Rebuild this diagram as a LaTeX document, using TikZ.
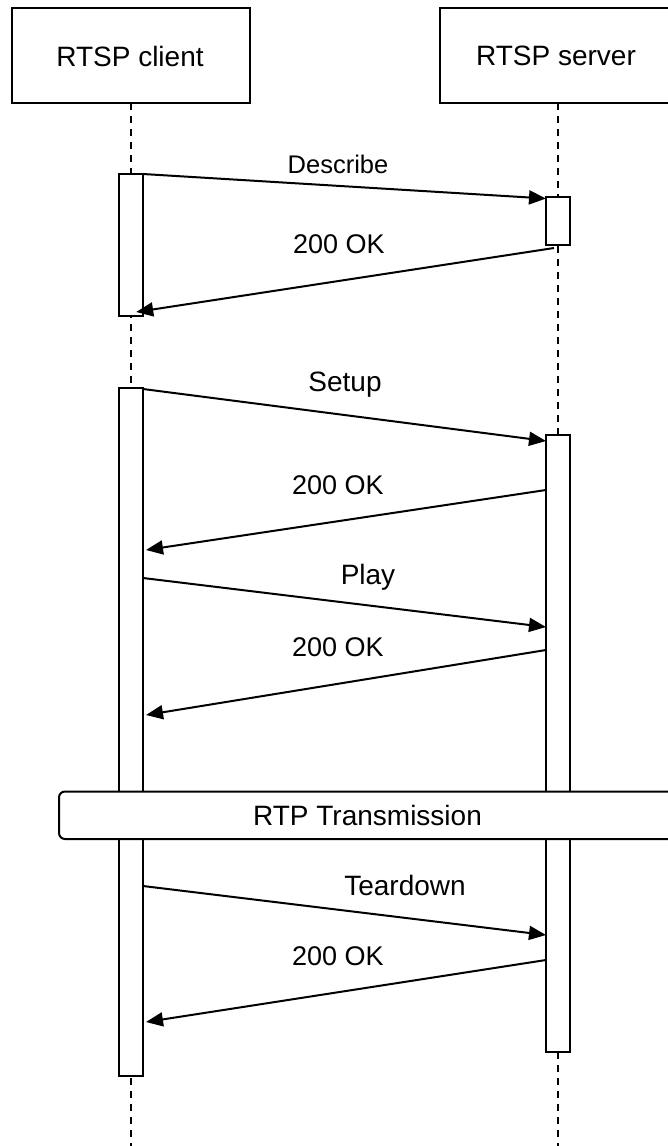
\documentclass[tikz,border=0pt]{standalone}
\usepackage{fontspec}
\setmainfont{Liberation Sans}
\usetikzlibrary{arrows.meta,calc}
\begin{document}
\begin{tikzpicture}[x=1pt,y=-1pt,
  every node/.style={inner sep=0pt,outer sep=0pt},
  lbl/.style={font=\fontsize{27}{32}\selectfont, text=black},
  lblbig/.style={font=\fontsize{28}{33}\selectfont, text=black},
  lblsmall/.style={font=\fontsize{25.5}{30}\selectfont, text=black},
  actor/.style={draw,line width=2pt,fill=white,minimum width=238pt,minimum height=95pt},
  act/.style={draw,line width=2pt,fill=white,minimum width=23.5pt},
  life/.style={line width=2pt,dash pattern=on 7pt off 6pt},
  msg/.style={line width=2pt,-{Triangle[length=17pt,width=14pt]}},
  band/.style={draw,line width=2pt,fill=white,rounded corners=6pt,minimum width=617pt,minimum height=47.5pt,font=\fontsize{28}{33}\selectfont}
]
\useasboundingbox (0,0) rectangle (668,1146);
\clip (0,0) rectangle (668,1146);
\fill[white] (0,0) rectangle (668,1146);

% actors
\node[actor] (client) at (131,55.5) {};
\node[lblbig] (clientlbl) at (130,56) {RTSP client};
\node[actor,minimum width=236pt] (server) at (558,55.5) {};
\node[lblbig] (serverlbl) at (556,56) {RTSP server};

% lifelines
\coordinate (cend) at (131.2,1150);
\coordinate (send) at (558,1150);
\draw[life] (client.south) ++(0.2,0) -- (cend);
\draw[life] (server.south) -- (send);

% activations
\node[act,minimum height=142pt] (ca1) at (131.2,245) {};
\node[act,minimum width=24pt,minimum height=48pt] (sa1) at (558,221) {};
\node[act,minimum height=688pt] (ca2) at (131.2,732) {};
\node[act,minimum width=24pt,minimum height=617pt] (sa2) at (558,743.5) {};

% RTP band
\node[band] (rtp) at (367.5,815.25) {RTP Transmission};

% messages
\draw[msg] (ca1.north east) -- ($(sa1.north west)+(0,1.5)$);
\node[lblsmall] (m1) at (338,164) {Describe};
\draw[msg] ($(sa1.south)+(-4,3)$) -- ($(ca1.south)+(5,-4)$);
\node[lbl] (m2) at (339,244) {200 OK};

\coordinate (c3) at (143,389);
\coordinate (s3) at (546,441);
\draw[msg] (c3) -- (s3);
\node[lblbig] (m3) at (345,385) {Setup};

\coordinate (s4) at (546,490);
\coordinate (c4) at (146,550);
\draw[msg] (s4) -- (c4);
\node[lbl] (m4) at (338,485) {200 OK};

\coordinate (c5) at (143,578);
\coordinate (s5) at (546,627);
\draw[msg] (c5) -- (s5);
\node[lblbig] (m5) at (368,577) {Play};

\coordinate (s6) at (546,650);
\coordinate (c6) at (146,715);
\draw[msg] (s6) -- (c6);
\node[lbl] (m6) at (338,647) {200 OK};

\coordinate (c7) at (143,886);
\coordinate (s7) at (546,935);
\draw[msg] (c7) -- (s7);
\node[lblbig] (m7) at (405,885) {Teardown};

\coordinate (s8) at (546,960);
\coordinate (c8) at (146,1022);
\draw[msg] (s8) -- (c8);
\node[lbl] (m8) at (338,956) {200 OK};
\end{tikzpicture}
\end{document}
